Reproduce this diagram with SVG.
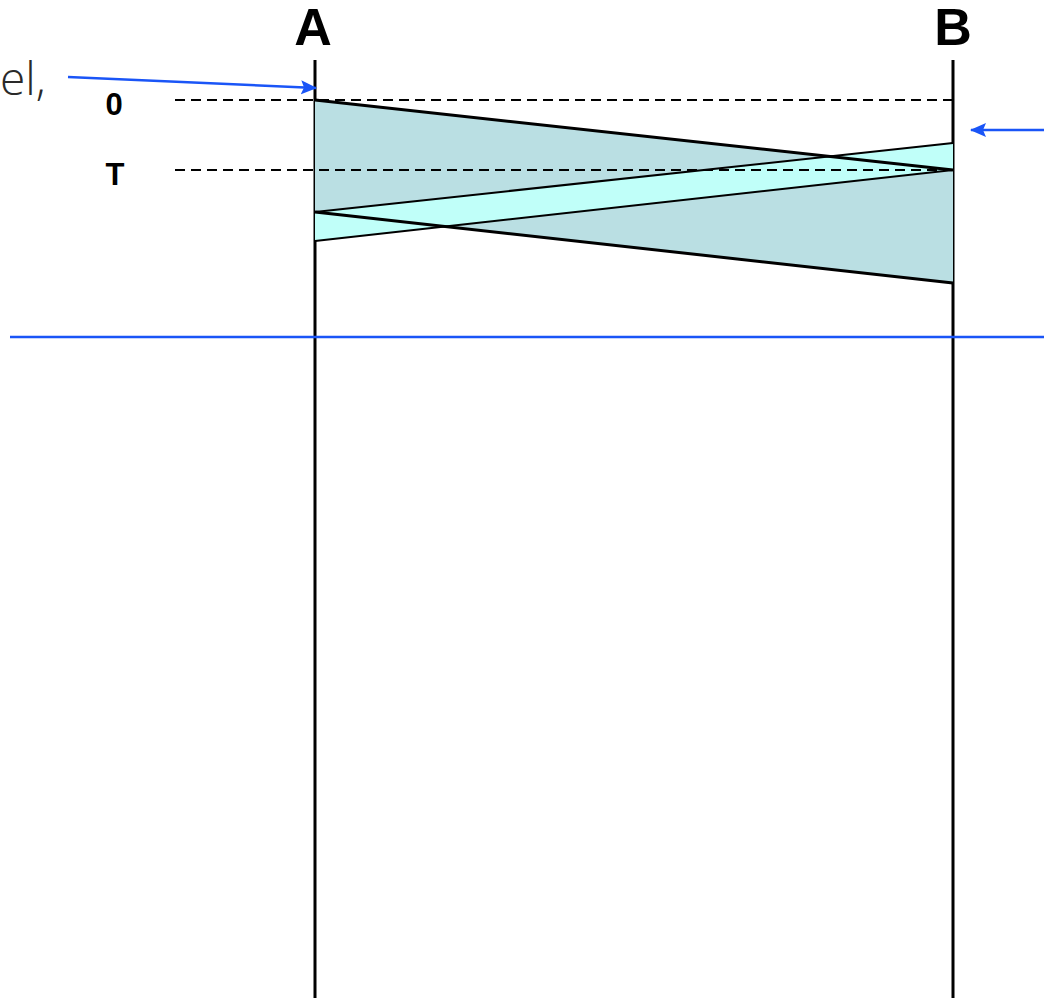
<svg xmlns="http://www.w3.org/2000/svg" width="1044" height="998" viewBox="0 0 1044 998">
<style>
.lbl{font-family:"Liberation Sans",Arial,sans-serif;font-weight:bold;fill:#000;text-anchor:middle}
.dash{stroke:#000;stroke-width:2;stroke-dasharray:10 6;fill:none}
.life{stroke:#000;stroke-width:3;fill:none}
.blue{stroke:#1a55f7;stroke-width:2.5;fill:none}
.edge{stroke:#000;fill:none}
</style>
<defs>
<marker id="ah" markerWidth="16" markerHeight="16" refX="15" refY="8" orient="auto" markerUnits="userSpaceOnUse">
<path d="M0,1 L16,8 L0,15 L3,8 Z" fill="#1a55f7"/>
</marker>
</defs>
<rect width="1044" height="998" fill="#fff"/>
<text x="0" y="95" font-family="'Open Sans',Lato,sans-serif" font-weight="300" font-size="46" fill="#2a2a2a">el,</text>
<g id="lifelines">
<line class="life" x1="315" y1="60" x2="315" y2="998"/>
<line class="life" x1="953" y1="60" x2="953" y2="998"/>
</g>
<g id="labels">
<text class="lbl" x="313" y="45" font-size="52">A</text>
<text class="lbl" x="953" y="45" font-size="52">B</text>
<text class="lbl" x="114" y="115" font-size="31">0</text>
<text class="lbl" x="115" y="185" font-size="31">T</text>
</g>
<g id="bands">
<polygon points="315,100 953,170 953,283 315,212" fill="#badfe3"/>
<polygon points="315,212 953,143 953,170 315,241" fill="#c0fff9"/>
<line class="edge" stroke-width="3" x1="315" y1="100" x2="953" y2="170"/>
<line class="edge" stroke-width="3" x1="315" y1="212" x2="953" y2="283"/>
<line class="edge" stroke-width="2" x1="315" y1="212" x2="953" y2="143"/>
<line class="edge" stroke-width="2" x1="315" y1="241" x2="953" y2="170"/>
</g>
<g id="connectors">
<line class="dash" x1="175" y1="100" x2="953" y2="100"/>
<line class="dash" x1="175" y1="170" x2="953" y2="170"/>
<line class="blue" x1="68" y1="77" x2="316" y2="88" marker-end="url(#ah)"/>
<line class="blue" x1="1044" y1="130" x2="971" y2="130" marker-end="url(#ah)"/>
<line class="blue" stroke-width="3" x1="10" y1="337" x2="1044" y2="337"/>
</g>
</svg>
